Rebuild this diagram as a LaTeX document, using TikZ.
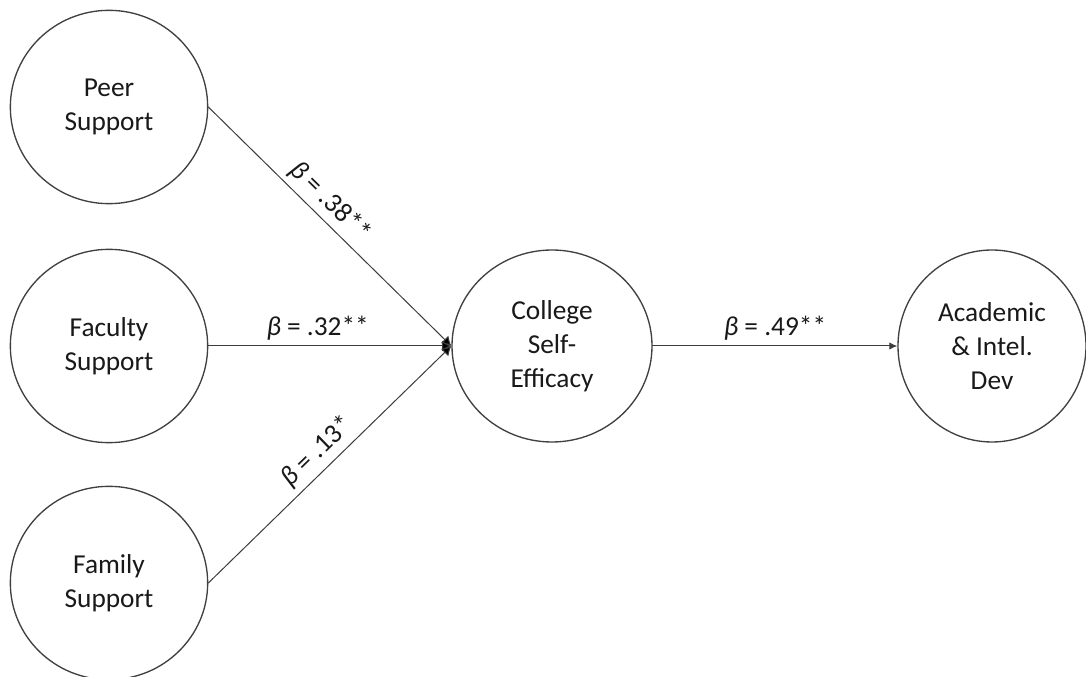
\documentclass[tikz,border=0pt]{standalone}
\usepackage{fontspec}
\setmainfont{Carlito}
\usetikzlibrary{arrows.meta,shapes.geometric}
\definecolor{pathgray}{RGB}{60,60,60}
\newcommand{\coefb}[1]{\textit{β} = #1}

\begin{document}
\begin{tikzpicture}[x=0.75pt,y=-0.75pt,>=Latex,line cap=round,line join=round]
\useasboundingbox (0,0) rectangle (1086,677);
\tikzset{
  construct/.style={ellipse,draw=black!75,line width=1pt,fill=white,
    minimum width=148pt,minimum height=145pt,inner sep=0pt,align=center,
    font=\fontsize{20.5}{25.5}\selectfont,text=black!90},
  effect/.style={draw=pathgray,line width=.75pt,-{Latex[length=6pt,width=5.5pt]}},
  joint/.style={-{Latex[length=7pt,width=8pt,fill=black]}},
  coef/.style={font=\fontsize{20.5}{24}\selectfont,text=black!90,above,inner sep=4pt}
}
\node[construct] (peer) at (109,107) {Peer\\Support};
\node[construct] (faculty) at (109,346) {Faculty\\Support};
\node[construct] (family) at (109,583) {Family\\Support};
\node[construct,minimum width=150pt,minimum height=144pt] (cse) at (552,346) {College\\Self-\\Efficacy};
\node[construct,minimum width=141pt,minimum height=144pt] (aid) at (992,346) {Academic\\\& Intel.\\Dev};
\draw[effect,joint] (peer.east) -- node[coef,sloped,pos=.45] {\coefb{.38**}} (cse.west);
\draw[effect,joint] (faculty.east) -- node[coef,pos=.45] {\coefb{.32**}} (cse.west);
\draw[effect,joint] (family.east) -- node[coef,sloped,pos=.5] {\coefb{.13*}} (cse.west);
\draw[effect] (cse.east) -- node[coef] {\coefb{.49**}} (aid.west);
\end{tikzpicture}
\end{document}
